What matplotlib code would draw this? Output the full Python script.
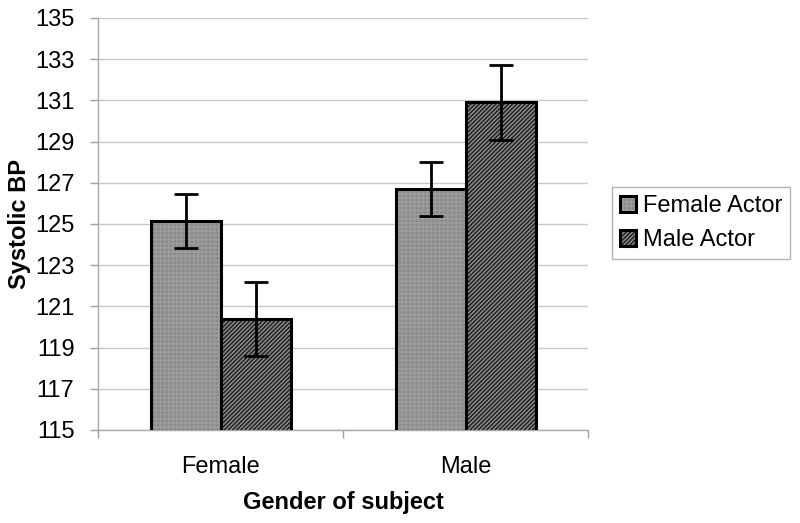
import matplotlib
matplotlib.use('Agg')
from matplotlib import pyplot as plt
import numpy as np

plt.rcParams['font.family'] = ['Liberation Sans', 'DejaVu Sans']
plt.rcParams['hatch.linewidth'] = 1.0

groups = ['Female', 'Male']
series = ['Female Actor', 'Male Actor']
female_actor = [125.15, 126.7]
male_actor = [120.4, 130.9]
female_actor_err = [1.3, 1.3]
male_actor_err = [1.8, 1.8]
y_ticks = list(range(115, 136, 2))


def main():
    fig = plt.figure(figsize=(8, 5.23), dpi=100)
    ax = fig.add_axes([0.1225, 0.178, 0.6125, 0.7876])

    x = np.arange(len(groups))
    w = 70 / 245

    b1 = ax.bar(x - w / 2, female_actor, w, color='#8a8a8a',
                edgecolor='black', linewidth=2.2, hatch='++++', label=series[0], zorder=3)
    for p in b1:
        p._hatch_color = matplotlib.colors.to_rgba('#9e9e9e')
    b2 = ax.bar(x + w / 2, male_actor, w, color='#8a8a8a',
                edgecolor='black', linewidth=2.2, hatch='////////', label=series[1], zorder=3)
    for p in b2:
        p._hatch_color = matplotlib.colors.to_rgba('#1a1a1a')

    ax.errorbar(x - w / 2, female_actor, yerr=female_actor_err, fmt='none',
                ecolor='black', elinewidth=2, capsize=8.5, capthick=2, zorder=4)
    ax.errorbar(x + w / 2, male_actor, yerr=male_actor_err, fmt='none',
                ecolor='black', elinewidth=2, capsize=8.5, capthick=2, zorder=4)

    ax.set_ylim(115, 135)
    ax.set_xlim(-0.5, 1.5)
    ax.set_yticks(y_ticks)
    ax.set_xticks([-0.5, 0.5, 1.5])
    ax.set_xticklabels([])
    ax.set_xticks(x, minor=True)
    ax.set_xticklabels(groups, minor=True)
    ax.tick_params(axis='x', which='minor', length=0, pad=19, labelsize=17)
    ax.tick_params(axis='x', which='major', length=6, color='#a0a0a0', width=1)
    ax.tick_params(axis='y', length=6, color='#a0a0a0', width=1, labelsize=17, pad=11)

    ax.yaxis.grid(True, color='#c8c8c8', linewidth=1)
    ax.set_axisbelow(True)
    for s in ['top', 'right']:
        ax.spines[s].set_visible(False)
    for s in ['left', 'bottom']:
        ax.spines[s].set_color('#a8a8a8')
        ax.spines[s].set_linewidth(1)

    ax.set_ylabel('Systolic BP', fontsize=17, fontweight='bold')
    ax.yaxis.set_label_coords(-0.137, 0.5)
    ax.set_xlabel('Gender of subject', fontsize=17, fontweight='bold')
    ax.xaxis.set_label_coords(0.5, -0.148)

    leg = fig.legend(loc='upper left', bbox_to_anchor=(612 / 800, 1 - 187 / 523),
                     fontsize=17, frameon=True, fancybox=False, edgecolor='#a0a0a0',
                     handlelength=0.65, handleheight=0.65, handletextpad=0.3,
                     borderpad=0.35, labelspacing=0.5, borderaxespad=0)
    leg.get_frame().set_linewidth(1)

    fig.savefig('out.png', dpi=100)


if __name__ == '__main__':
    main()
